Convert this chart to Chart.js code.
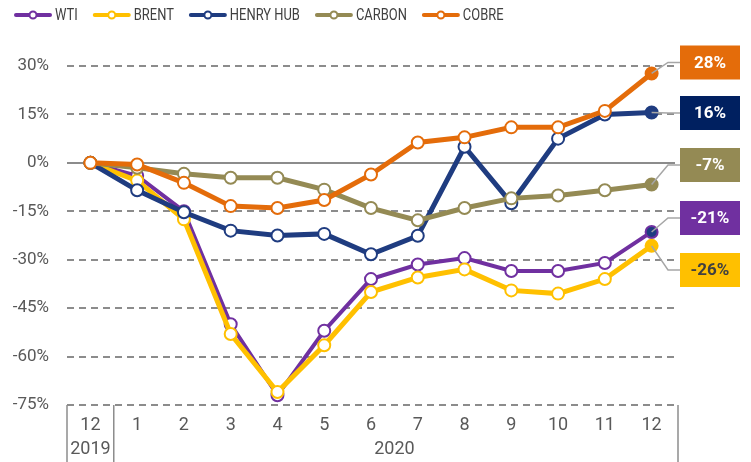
<!DOCTYPE html>
<html>
<head>
<meta charset="utf-8">
<script src="https://cdn.jsdelivr.net/npm/chart.js@4.4.0/dist/chart.umd.min.js"></script>
<style>
  html, body { margin: 0; padding: 0; background: #fff; }
</style>
</head>
<body>
<canvas id="chart" width="751" height="462"></canvas>
<script>
// month labels, first one is dec 2019
const months = ['12', '1', '2', '3', '4', '5', '6', '7', '8', '9', '10', '11', '12'];
const years = ['2019', '2020'];
const yearMonths = [1, 12];
const yTicks = [30, 15, 0, -15, -30, -45, -60, -75];

const wti      = [0, -4,   -15,   -50,   -72,   -52,   -36,   -31.5, -29.5, -33.5, -33.5, -31,   -21.4];
const brent    = [0, -5.5, -17.5, -53,   -71,   -56.5, -40,   -35.5, -33,   -39.5, -40.5, -36,   -25.7];
const henryHub = [0, -8.5, -15.3, -21,   -22.5, -22,   -28.3, -22.6,  5,    -12.5,  7.5,   15,    15.6];
const carbon   = [0, -1.5, -3.4,  -4.6,  -4.6,  -8.3,  -14,   -17.8, -14,   -11,   -10.1,  -8.5,  -6.7];
const cobre    = [0, -0.5, -6.2,  -13.4, -14,   -11.5, -3.6,   6.3,   7.9,   11,    11,    16.1,  27.7];

const TXT = '#595959';
const GRID = '#8c8c8c';

function series(label, data, color, width, order, lastFill) {
  const fills = data.map((_, i) => i === data.length - 1 ? (lastFill || color) : '#fff');
  return {
    label: label,
    data: data,
    borderColor: color,
    borderWidth: width,
    pointRadius: 6,
    pointHoverRadius: 6,
    pointBorderWidth: 2,
    pointBorderColor: color,
    pointBackgroundColor: fills,
    tension: 0,
    clip: false,
    order: order
  };
}

const datasets = [
  series('WTI', wti, '#7030a0', 4, 4, '#1f3c80'),
  series('BRENT', brent, '#ffc000', 5, 3),
  series('HENRY HUB', henryHub, '#1f3c80', 5, 2),
  series('CARBON', carbon, '#948a54', 5, 1),
  series('COBRE', cobre, '#e46c0a', 5, 0)
];

// end value boxes, top to bottom
const boxes = [
  { ds: 4, y: 62.5, bg: '#e46c0a', fg: '#fff' },
  { ds: 2, y: 113, bg: '#002060', fg: '#fff' },
  { ds: 3, y: 165, bg: '#948a54', fg: '#fff' },
  { ds: 0, y: 218, bg: '#7030a0', fg: '#fff' },
  { ds: 1, y: 270, bg: '#ffc000', fg: '#404040' }
];

// legend in one row, narrow text like the original condensed font
const lineLegend = {
  id: 'lineLegend',
  afterDraw(chart) {
    const { ctx } = chart;
    const sx = 0.76;
    const cy = 15;
    let x = 14;
    ctx.save();
    ctx.font = '17px Roboto';
    ctx.textBaseline = 'middle';
    ctx.textAlign = 'left';
    chart.data.datasets.forEach(ds => {
      ctx.strokeStyle = ds.borderColor;
      ctx.lineWidth = 4;
      ctx.lineCap = 'round';
      ctx.beginPath(); ctx.moveTo(x + 2, cy); ctx.lineTo(x + 36, cy); ctx.stroke();
      ctx.beginPath(); ctx.arc(x + 19, cy, 3.5, 0, Math.PI * 2);
      ctx.fillStyle = '#fff'; ctx.fill();
      ctx.lineWidth = 2; ctx.stroke();
      const w = ctx.measureText(ds.label).width * sx;
      ctx.save();
      ctx.translate(x + 41, cy + 1);
      ctx.scale(sx, 1);
      ctx.fillStyle = '#404040';
      ctx.fillText(ds.label, 0, 0);
      ctx.restore();
      x += 41 + w + 15;
    });
    ctx.restore();
  }
};

// year row + separators under the x axis
const yearAxis = {
  id: 'yearAxis',
  afterDraw(chart) {
    const { ctx, chartArea } = chart;
    const x = chart.scales.x;
    const band = (chartArea.right - chartArea.left) / months.length;
    const top = chartArea.bottom;
    const bottom = chart.height;
    ctx.save();
    ctx.strokeStyle = GRID;
    ctx.lineWidth = 1.5;
    let idx = 0;
    const seps = [chartArea.left];
    years.forEach((yr, k) => {
      const first = idx;
      const last = idx + yearMonths[k] - 1;
      idx += yearMonths[k];
      const cx = (x.getPixelForValue(first) + x.getPixelForValue(last)) / 2;
      ctx.fillStyle = TXT;
      ctx.font = '18px Roboto';
      ctx.textAlign = 'center';
      ctx.textBaseline = 'middle';
      ctx.fillText(yr, cx, 449);
      seps.push(x.getPixelForValue(last) + band / 2 + (k === years.length - 1 ? 3 : 0));
    });
    seps.forEach(sx => {
      ctx.beginPath();
      ctx.moveTo(sx, top);
      ctx.lineTo(sx, bottom);
      ctx.stroke();
    });
    ctx.restore();
  }
};

// connectors and boxes with last value
const endLabels = {
  id: 'endLabels',
  afterDatasetsDraw(chart) {
    const { ctx } = chart;
    const elbowX = 668, boxL = 680, boxW = 60, boxH = 34;
    ctx.save();
    boxes.forEach(b => {
      const meta = chart.getDatasetMeta(b.ds);
      const pt = meta.data[meta.data.length - 1];
      const data = chart.data.datasets[b.ds].data;
      const v = Math.round(data[data.length - 1]);
      ctx.strokeStyle = '#a6a6a6';
      ctx.lineWidth = 1.5;
      ctx.beginPath();
      ctx.moveTo(pt.x, pt.y);
      ctx.lineTo(elbowX, b.y);
      ctx.lineTo(boxL, b.y);
      ctx.stroke();
      ctx.fillStyle = b.bg;
      ctx.fillRect(boxL, b.y - boxH / 2, boxW, boxH);
      ctx.fillStyle = b.fg;
      ctx.font = 'bold 17px Roboto';
      ctx.textAlign = 'center';
      ctx.textBaseline = 'middle';
      ctx.fillText(v + '%', boxL + boxW / 2, b.y + 1);
    });
    ctx.restore();
  }
};

new Chart(document.getElementById('chart'), {
  type: 'line',
  data: { labels: months, datasets: datasets },
  plugins: [lineLegend, yearAxis, endLabels],
  options: {
    responsive: false,
    animation: false,
    layout: { padding: { left: 0, right: 76, top: 66, bottom: 0 } },
    plugins: {
      tooltip: { enabled: false },
      legend: { display: false }
    },
    scales: {
      x: {
        offset: true,
        grid: { display: false },
        border: { display: false },
        ticks: {
          color: TXT,
          padding: 2,
          maxRotation: 0,
          autoSkip: false,
          font: { family: 'Roboto', size: 18 }
        },
        afterFit: s => { s.height = 57; }
      },
      y: {
        min: -75,
        max: 30,
        afterBuildTicks: s => { s.ticks = yTicks.map(v => ({ value: v })); },
        grid: {
          color: GRID,
          lineWidth: 2,
          drawTicks: false
        },
        border: {
          display: false,
          dash: c => (c.tick && c.tick.value === 0 ? [] : [7, 5])
        },
        ticks: {
          color: TXT,
          padding: 18,
          font: { family: 'Roboto', size: 17 },
          callback: v => v + '%'
        },
        afterFit: s => { s.width = 67; }
      }
    }
  }
});
</script>
</body>
</html>
